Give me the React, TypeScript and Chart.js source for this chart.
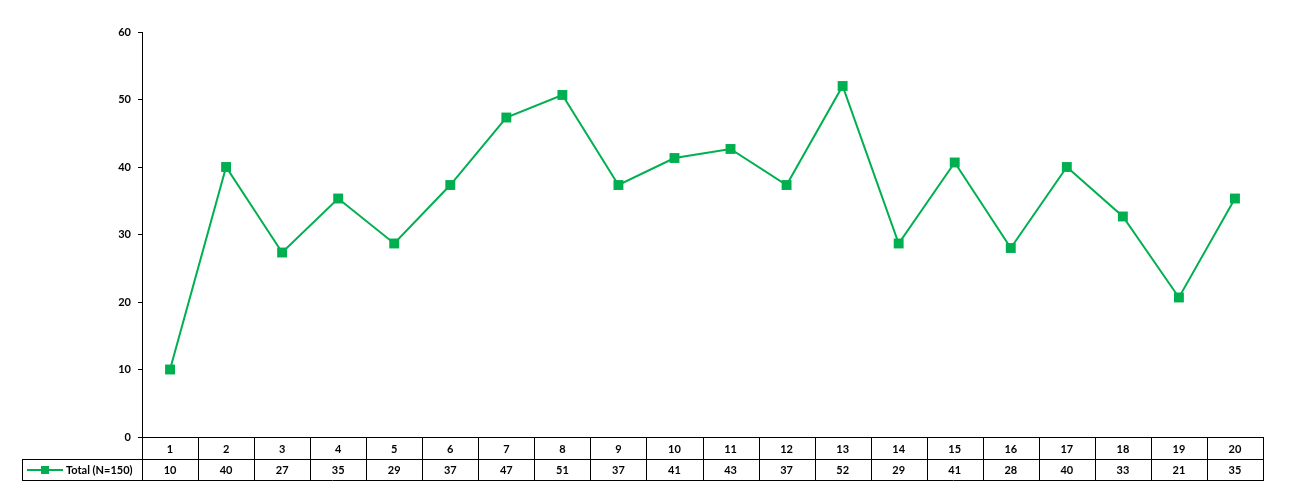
import React, { useEffect, useRef } from "react";
import { Chart, registerables } from "chart.js";

Chart.register(...registerables);

const categories = ["1", "2", "3", "4", "5", "6", "7", "8", "9", "10", "11", "12", "13", "14", "15", "16", "17", "18", "19", "20"];
const seriesLabel = "Total (N=150)";
const seriesValues = [10, 40, 27.33, 35.33, 28.67, 37.33, 47.33, 50.67, 37.33, 41.33, 42.67, 37.33, 52, 28.67, 40.67, 28, 40, 32.67, 20.67, 35.33];
const tableValues = ["10", "40", "27", "35", "29", "37", "47", "51", "37", "41", "43", "37", "52", "29", "41", "28", "40", "33", "21", "35"];
const yTicks = [0, 10, 20, 30, 40, 50, 60];

const GREEN = "#00B050";
const FONT = "Lato, 'Liberation Sans', sans-serif";

const tablePlugin = {
  id: "dataTable",
  afterDraw(chart: any) {
    const ctx = chart.ctx;
    const area = chart.chartArea;
    const x = chart.scales.x;
    const left = Math.round(area.left);
    const right = Math.round(area.right);
    const top = Math.round(area.bottom);
    const mid = top + 22;
    const bottom = top + 43;
    const legendLeft = 22;
    const n = categories.length;
    const colW = (right - left) / n;
    ctx.save();
    ctx.strokeStyle = "#000";
    ctx.lineWidth = 1;
    ctx.beginPath();
    ctx.moveTo(left, top + 0.5);
    ctx.lineTo(right + 1, top + 0.5);
    ctx.moveTo(legendLeft, mid + 0.5);
    ctx.lineTo(right + 1, mid + 0.5);
    ctx.moveTo(legendLeft, bottom + 0.5);
    ctx.lineTo(right + 1, bottom + 0.5);
    for (let i = 0; i <= n; i++) {
      const xx = Math.round(left + i * colW) + 0.5;
      ctx.moveTo(xx, top);
      ctx.lineTo(xx, bottom + 1);
    }
    ctx.moveTo(legendLeft + 0.5, mid);
    ctx.lineTo(legendLeft + 0.5, bottom + 1);
    ctx.stroke();

    ctx.fillStyle = "#000";
    ctx.font = `bold 11px ${FONT}`;
    ctx.textAlign = "center";
    ctx.textBaseline = "middle";
    categories.forEach((c, i) => {
      const cx = x.getPixelForValue(i);
      ctx.fillText(c, cx, (top + mid) / 2 + 1);
      ctx.fillText(tableValues[i], cx, (mid + bottom) / 2 + 1);
    });

    // legend key
    const ly = (mid + bottom) / 2 + 0.5;
    ctx.strokeStyle = GREEN;
    ctx.lineWidth = 2;
    ctx.beginPath();
    ctx.moveTo(27, ly);
    ctx.lineTo(63, ly);
    ctx.stroke();
    ctx.fillStyle = GREEN;
    ctx.fillRect(45 - 4, ly - 4, 8, 8);
    ctx.fillStyle = "#000";
    ctx.textAlign = "left";
    ctx.fillText(seriesLabel, 66, ly + 0.5);
    ctx.restore();
  },
};

export default function App() {
  const ref = useRef<HTMLCanvasElement>(null);
  useEffect(() => {
    if (!ref.current) return;
    const chart = new Chart(ref.current, {
      type: "line",
      data: {
        labels: categories,
        datasets: [
          {
            label: seriesLabel,
            data: seriesValues,
            borderColor: GREEN,
            backgroundColor: GREEN,
            borderWidth: 2,
            pointStyle: "rect",
            pointRadius: 7,
            pointHoverRadius: 7,
            pointBorderWidth: 0,
            tension: 0,
          },
        ],
      },
      options: {
        animation: false,
        responsive: true,
        maintainAspectRatio: false,
        layout: { padding: { left: 0, right: 26, top: 32, bottom: 58 } },
        plugins: { legend: { display: false }, tooltip: { enabled: false } },
        scales: {
          x: { type: "category", offset: true, display: false },
          y: {
            min: 0,
            max: 60,
            afterBuildTicks: (scale: any) => {
              scale.ticks = yTicks.map((v) => ({ value: v }));
            },
            afterFit: (scale: any) => {
              scale.width = 142;
            },
            border: { display: true, color: "#000", width: 1 },
            grid: { drawOnChartArea: false, drawTicks: true, tickLength: 4, color: "#000" },
            ticks: {
              color: "#000",
              padding: 7,
              font: { family: FONT, size: 11, weight: "bold" },
            },
          },
        },
      },
      plugins: [tablePlugin],
    });
    return () => chart.destroy();
  }, []);
  return (
    <div style={{ position: "fixed", left: 0, top: 0, width: 1289, height: 495, background: "#fff" }}>
      <canvas ref={ref} />
    </div>
  );
}
